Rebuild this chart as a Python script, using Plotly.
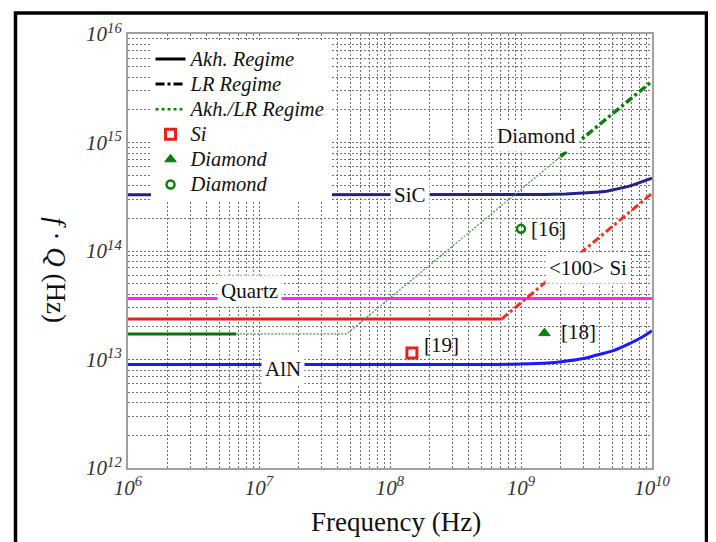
import math
import plotly.graph_objects as go

# ---------------- data ----------------
aln_f = [1e6, 5e8, 1e9, 1.6e9, 2.1e9, 3e9, 3.8e9, 5e9, 6.8e9, 8.5e9, 1e10]
aln_fq = [9.0e12, 9.0e12, 9.1e12, 9.3e12, 9.6e12, 1.02e13, 1.1e13, 1.2e13, 1.41e13, 1.62e13, 1.84e13]

sic_f = [1e6, 1e9, 1.5e9, 2.2e9, 3e9, 4e9, 4.5e9, 5.5e9, 6.4e9, 7.2e9, 8.1e9, 9e9, 1e10]
sic_fq = [3.3e14, 3.3e14, 3.32e14, 3.36e14, 3.42e14, 3.5e14, 3.56e14, 3.73e14, 3.9e14, 4.07e14, 4.27e14, 4.46e14, 4.68e14]

quartz_f = [1e6, 1e10]
quartz_fq = [3.64e13, 3.64e13]

si_akh_f = [1e6, 7.1e8]
si_akh_fq = [2.36e13, 2.36e13]
si_lr_f = [7.1e8, 1e10]
si_lr_fq = [2.36e13, 3.4e14]

dia_akh_f = [1e6, 6.7e6]
dia_akh_fq = [1.72e13, 1.72e13]
dia_mix_f = [6.7e6, 4.67e7, 2e9]
dia_mix_fq = [1.72e13, 1.72e13, 7.4e14]
dia_lr_f = [2e9, 1e10]
dia_lr_fq = [7.4e14, 3.67e15]

pt_si_f, pt_si_fq = [1.47e8], [1.15e13]          # [19]
pt_dia18_f, pt_dia18_fq = [1.51e9], [1.75e13]    # [18]
pt_dia16_f, pt_dia16_fq = [1.0e9], [1.6e14]      # [16]

decades = [6, 7, 8, 9, 10]
y_decades = [12, 13, 14, 15, 16]

legend_names = ["Akh. Regime", "LR Regime", "Akh./LR Regime", "Si", "Diamond", "Diamond"]

# label text, x (Hz), y (f.Q), anchor, white box
labels = [
    ("Diamond", 1.32e9, 1.15e15, "center", True),
    ("SiC", 1.42e8, 3.27e14, "center", True),
    ("Quartz", 8.4e6, 4.28e13, "center", True),
    ("AlN", 1.52e7, 8.15e12, "center", True),
    ("&lt;100&gt; Si", 3.24e9, 6.93e13, "center", True),
    ("[16]", 1.17e9, 1.6e14, "left", False),
    ("[18]", 1.99e9, 1.81e13, "left", False),
    ("[19]", 1.79e8, 1.35e13, "left", False),
]

FONT = "Liberation Serif, Times New Roman, serif"


def lg(name):
    return f'<span style="font-size:20.5px">{name}</span>'


fig = go.Figure()

# curves
fig.add_trace(go.Scatter(x=aln_f, y=aln_fq, mode="lines", line=dict(color="#1a1aff", width=3, shape="spline"), showlegend=False))
fig.add_trace(go.Scatter(x=sic_f, y=sic_fq, mode="lines", line=dict(color="#22228a", width=3), showlegend=False))
fig.add_trace(go.Scatter(x=quartz_f, y=quartz_fq, mode="lines", line=dict(color="#ff22ff", width=3), showlegend=False))
fig.add_trace(go.Scatter(x=si_akh_f, y=si_akh_fq, mode="lines", line=dict(color="#e8201a", width=3), showlegend=False))
fig.add_trace(go.Scatter(x=si_lr_f, y=si_lr_fq, mode="lines", line=dict(color="#ff2a1a", width=3, dash="8px,3px,3px,3px"), showlegend=False))
fig.add_trace(go.Scatter(x=dia_akh_f, y=dia_akh_fq, mode="lines", line=dict(color="#0a700a", width=3), showlegend=False))
fig.add_trace(go.Scatter(x=dia_mix_f, y=dia_mix_fq, mode="lines", line=dict(color="#3c9c3c", width=1.2, dash="2px,1.5px"), showlegend=False))
fig.add_trace(go.Scatter(x=dia_lr_f, y=dia_lr_fq, mode="lines", line=dict(color="#0a800a", width=3.5, dash="8px,3px,3px,3px"), showlegend=False))

# legend-only entries
fig.add_trace(go.Scatter(x=[None], y=[None], mode="lines", name=lg(legend_names[0]), line=dict(color="black", width=3)))
fig.add_trace(go.Scatter(x=[None], y=[None], mode="lines", name=lg(legend_names[1]), line=dict(color="black", width=3, dash="dashdot")))
fig.add_trace(go.Scatter(x=[None], y=[None], mode="lines", name=lg(legend_names[2]), line=dict(color="#0a800a", width=2.5, dash="dot")))

# points
fig.add_trace(go.Scatter(x=pt_si_f, y=pt_si_fq, mode="markers", name=lg(legend_names[3]),
                         marker=dict(symbol="square", size=10, color="white", line=dict(color="#e8201a", width=3))))
fig.add_trace(go.Scatter(x=pt_dia18_f, y=pt_dia18_fq, mode="markers", name=lg(legend_names[4]),
                         marker=dict(symbol="triangle-up", size=10, color="#0a800a", line=dict(color="#0a800a", width=1))))
fig.add_trace(go.Scatter(x=pt_dia16_f, y=pt_dia16_fq, mode="markers", name=lg(legend_names[5]),
                         marker=dict(symbol="circle-open", size=8, color="#0a800a", line=dict(color="#0a800a", width=2.5))))

for text, lx, ly, anc, bg in labels:
    fig.add_annotation(x=math.log10(lx), y=math.log10(ly), xref="x", yref="y", text=text, showarrow=False,
                       xanchor=anc, yanchor="middle",
                       font=dict(family=FONT, size=21, color="#111"),
                       bgcolor="white" if bg else "rgba(0,0,0,0)", borderpad=3 if bg else 0)

grid = dict(gridcolor="#707070", griddash="2px,2px", gridwidth=1)
minor_x = [m * 10 ** d for d in decades[:-1] for m in range(2, 10)]
minor_y = [m * 10 ** d for d in y_decades[:-1] for m in range(2, 10)]

fig.update_xaxes(type="log", range=[6, 10], showline=True, linecolor="#a0a0a0", linewidth=2, mirror=True,
                 ticks="", tickmode="array", tickvals=[10 ** d for d in decades],
                 ticktext=[f"<i>10<sup>{d}</sup></i>" for d in decades],
                 tickfont=dict(family=FONT, size=21, color="#333"), showgrid=True, zeroline=False,
                 minor=dict(tickmode="array", tickvals=minor_x, showgrid=True, **grid), **grid)
fig.update_yaxes(type="log", range=[12, 16], showline=True, linecolor="#a0a0a0", linewidth=2, mirror=True,
                 ticks="", tickmode="array", tickvals=[10 ** d for d in y_decades],
                 ticktext=[f"<i>10<sup>{d}</sup></i>" for d in y_decades],
                 tickfont=dict(family=FONT, size=21, color="#333"), showgrid=True, zeroline=False,
                 minor=dict(tickmode="array", tickvals=minor_y, showgrid=True, **grid), **grid)

# axis titles
fig.add_annotation(x=0.512, y=-0.125, xref="paper", yref="paper", text="Frequency (Hz)", showarrow=False,
                   xanchor="center", yanchor="middle", font=dict(family=FONT, size=27, color="#111"))
fig.add_annotation(x=-0.137, y=0.455, xref="paper", yref="paper", text="<i>f</i> · <i>Q</i> (Hz)", showarrow=False,
                   textangle=90, xanchor="center", yanchor="middle", font=dict(family=FONT, size=27, color="#111"))

# outer frame
fig.add_shape(type="rect", xref="paper", yref="paper", x0=-0.2147, x1=1.104, y0=-0.25, y1=1.0485,
              line=dict(color="black", width=3.5), fillcolor="rgba(0,0,0,0)", layer="above")

fig.update_layout(
    width=708, height=534,
    margin=dict(l=120, r=64, t=21, b=74),
    paper_bgcolor="white", plot_bgcolor="white",
    font=dict(family=FONT, color="#111"),
    legend=dict(x=0.043, y=0.983, xanchor="left", yanchor="top", bgcolor="white", borderwidth=0,
                font=dict(family=FONT, size=17, color="#111", style="italic"), tracegroupgap=0),
)

fig.write_html("out.html")
